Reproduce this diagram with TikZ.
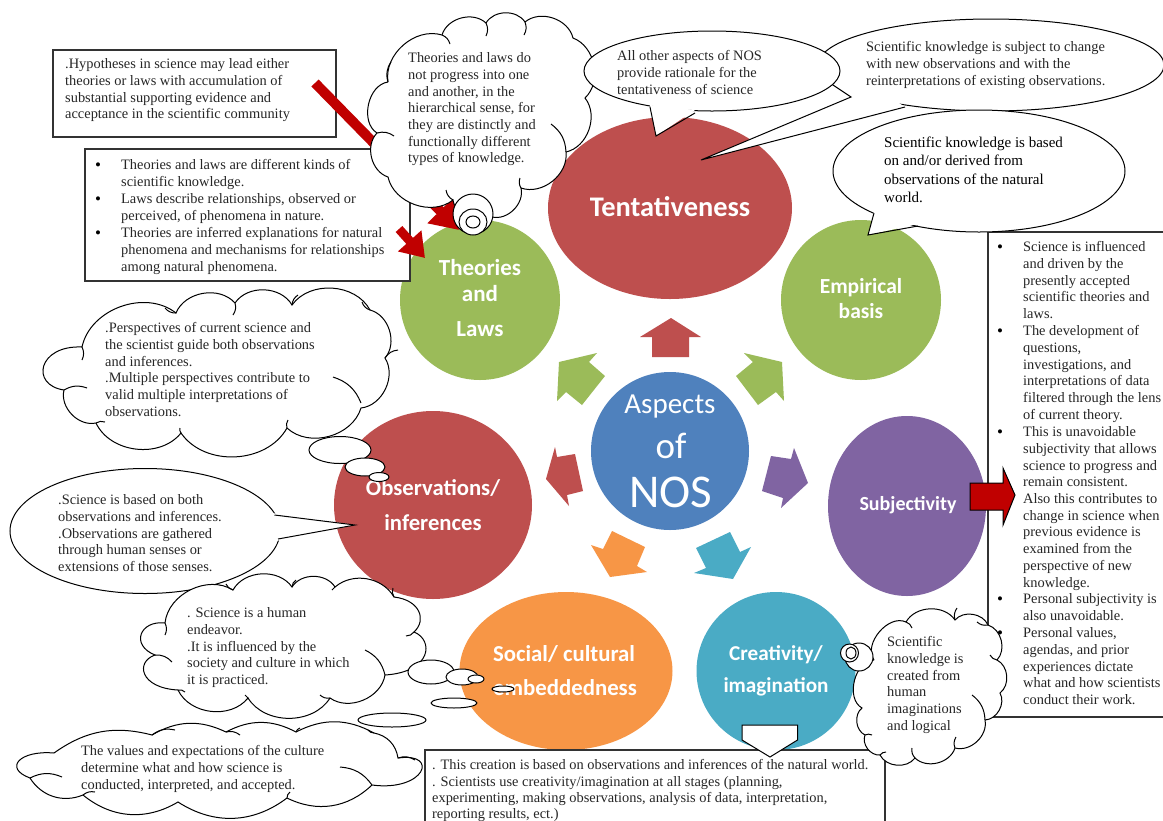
\documentclass[tikz,border=0pt]{standalone}
\usepackage{fontspec}
\setmainfont{Liberation Serif}
\newfontfamily\carl{Carlito}
\usetikzlibrary{shapes.geometric,arrows.meta}
\definecolor{cred}{HTML}{BE4F4E}
\definecolor{cgreen}{HTML}{9BBB59}
\definecolor{cpurple}{HTML}{8064A2}
\definecolor{cteal}{HTML}{4AABC5}
\definecolor{corange}{HTML}{F79646}
\definecolor{cblue}{HTML}{4F81BD}
\definecolor{dred}{HTML}{C00000}
\definecolor{ink}{HTML}{262626}
\tikzset{
  disc/.style={ellipse,inner sep=0pt,draw=none,fill=#1},
  callout/.style={ellipse,inner sep=0pt,draw=black,fill=white,line width=1pt},
  bubble/.style={ellipse,inner sep=0pt,draw=black,fill=white,line width=1pt},
  cloudline/.style={draw=black,fill=white,line width=1pt,every to/.style={bend left=58}},
  spur/.style={draw=black,line width=1pt,every to/.style={bend left=25}},
  boxline/.style={draw=black!80,line width=1.2pt},
  body/.style={anchor=north west,inner sep=0pt,yshift=-1.5pt,align=left,text=ink,font=\fontsize{14.4}{16.7}\selectfont},
  bigger/.style={anchor=north west,inner sep=0pt,yshift=-1.5pt,align=left,text=black,font=\fontsize{15}{18.4}\selectfont},
  dot/.style={inner sep=0pt,yshift=-2.5pt,text=black,font=\fontsize{17}{17}\selectfont},
  title/.style={inner sep=0pt,text=white,font=\carl\bfseries\fontsize{#1}{#1}\selectfont},
  thin title/.style={inner sep=0pt,text=white,font=\carl\fontsize{#1}{#1}\selectfont},
  bigred/.style={draw=dred,line width=10pt,-{Triangle[length=27pt,width=34pt]}},
  smallred/.style={draw=dred,line width=9pt,-{Triangle[length=23pt,width=30pt]}},
}
\begin{document}
\begin{tikzpicture}[x=1pt,y=-1pt]
\path[use as bounding box,fill=white] (0,0) rectangle (1163,820);

% discs
\node[disc=cred,minimum width=244pt,minimum height=182pt] (tent) at (670,208) {};
\node[disc=cgreen,minimum width=160pt,minimum height=160pt] (theo) at (480,300) {};
\node[disc=cgreen,minimum width=160pt,minimum height=160pt] (emp) at (861,300) {};
\node[disc=cpurple,minimum width=158pt,minimum height=180pt] (subj) at (907,506) {};
\node[disc=cteal,minimum width=159pt,minimum height=158pt] (crea) at (776,671) {};
\node[disc=corange,minimum width=213pt,minimum height=158pt] (soc) at (566,671) {};
\node[disc=cred,minimum width=198pt,minimum height=188pt] (obs) at (433,505) {};
\node[disc=cblue,minimum width=158pt,minimum height=158pt] (nos) at (670,451) {};

% block arrows around the centre
\fill[cred] (671,318) -- (701,337) -- (689,337) -- (689,357) -- (652,357) -- (652,337) -- (640,337) -- cycle;
\fill[cgreen] (744,353) -- (782,362) -- (784,401) -- (776,392) -- (758,405) -- (736,376) -- (753,362) -- cycle;
\fill[cgreen] (597,353) -- (559,362) -- (557,401) -- (566,392) -- (582,405) -- (605,376) -- (589,362) -- cycle;
\fill[cred] (555,447) -- (546,479) -- (569,506) -- (567,495) -- (583,491) -- (575,454) -- (557,457) -- cycle;
\fill[cpurple] (794,448) -- (808,483) -- (781,508) -- (783,498) -- (762,491) -- (771,456) -- (791,459) -- cycle;
\fill[corange] (612,531) -- (645,547) -- (637,566) -- (647,572) -- (610,577) -- (591,545) -- (603,549) -- cycle;
\fill[cteal] (730,532) -- (740,552) -- (751,547) -- (733,579) -- (694,573) -- (706,568) -- (696,548) -- cycle;

% disc titles
\node[title=28.4] (tTent) at (670,207) {Tentativeness};
\node[title=23] (tTheo1) at (480,268) {Theories};
\node[title=23] (tTheo2) at (480,294) {and};
\node[title=23] (tTheo3) at (480,329) {Laws};
\node[title=21.5] (tEmp1) at (861,288) {Empirical};
\node[title=21.5] (tEmp2) at (861,311) {basis};
\node[title=20] (tSubj) at (908,505) {Subjectivity};
\node[title=22.7] (tObs1) at (433,488) {Observations/};
\node[title=22.7] (tObs2) at (433,523) {inferences};
\node[title=22.8] (tSoc1) at (564,654) {Social/ cultural};
\node[title=22.8] (tSoc2) at (565,688) {embeddedness};
\node[title=21.2] (tCre1) at (776,655) {Creativity/};
\node[title=21.2] (tCre2) at (776,687) {imagination};
\node[thin title=29] (tNos1) at (670,407) {Aspects};
\node[thin title=37] (tNos2) at (671,446) {of};
\node[thin title=47] (tNos3) at (671,492) {NOS};

% top-left boxes
\node[draw=black!80,line width=1.2pt,fill=white,minimum width=283pt,minimum height=87pt,inner sep=0pt] (box1) at (194.5,93.5) {};
\node[body] (b1t) at (65,57) {.Hypotheses in science may lead either\\theories or laws with accumulation of\\substantial supporting evidence and\\acceptance in the scientific community};
\node[draw=black!80,line width=1.2pt,fill=white,minimum width=325pt,minimum height=132pt,inner sep=0pt] (box2) at (247.5,215) {};
\coordinate (a1s) at (315,83);
\coordinate (a1e) at (459,230);
\draw[bigred] (a1s) -- (a1e);
\node[dot] (d1) at (98,164) {•};
\node[dot] (d2) at (98,198) {•};
\node[dot] (d3) at (98,232) {•};
\node[body] (b2a) at (121,158) {Theories and laws are different kinds of\\scientific knowledge.};
\node[body] (b2b) at (121,192) {Laws describe relationships, observed or\\perceived, of phenomena in nature.};
\node[body] (b2c) at (121,226) {Theories are inferred explanations for natural\\phenomena and mechanisms for relationships\\among natural phenomena.};
\coordinate (a2s) at (399,229);
\coordinate (a2e) at (425,258);
\draw[smallred] (a2s) -- (a2e);

% theories cloud
\draw[cloudline] (388,82) to (442,35) to (486,23) to (525,22) to (573,38) to (585,98) to (566,152) to (521,188) to (492,217) to (453,200) to (388,177) to (377,133) to[bend left=70] (388,82);
\draw[spur] (442,35) to (450,44) (486,23) to (486,36) (525,22) to (524,35) (551,124) to (566,152) (521,188) to (520,178) (453,200) to (446,190) (377,133) to (394,136) (388,82) to (391,62);
\node[body] (cl1t) at (408,51) {Theories and laws do\\not progress into one\\and another, in the\\hierarchical sense, for\\they are distinctly and\\functionally different\\types of knowledge.};
\node[bubble,minimum width=40pt,minimum height=40pt] (bb1) at (473,214) {};
\node[bubble,minimum width=28pt,minimum height=26pt] (bb2) at (473,222) {};
\node[bubble,minimum width=14pt,minimum height=12pt] (bb3) at (473,222) {};

% right callouts (second one lies under the first)
\node[callout,minimum width=346pt,minimum height=92pt] (cB) at (991,65) {};
\fill[white] (830,83) -- (851,97) -- (701,160) -- (905,107) -- (880,90) -- cycle;
\draw[line width=1pt] (830,83) -- (851,97) -- (701,160) -- (905,107);
\node[body] (cBt) at (866,40) {Scientific knowledge is subject to change\\with new observations and with the\\reinterpretations of existing observations.};
\node[callout,minimum width=256pt,minimum height=80pt] (cA) at (712,71) {};
\fill[white] (650,105) -- (656,136) -- (695,110) -- cycle;
\draw[line width=1pt] (650,107) -- (656,136) -- (695,113);
\node[body] (cAt) at (617,49) {All other aspects of NOS\\provide rationale for the\\tentativeness of science};

% right box
\draw[boxline] (1163,232) -- (988,232) -- (988,717) -- (1163,717);
\node[dot] (d4) at (1000,246) {•};
\node[dot] (d5) at (1000,330) {•};
\node[dot] (d6) at (1000,431) {•};
\node[dot] (d7) at (1000,598) {•};
\node[dot] (d8) at (1000,632) {•};
\node[body] (r1) at (1023,240) {Science is influenced\\and driven by the\\presently accepted\\scientific theories and\\laws.};
\node[body] (r2) at (1023,324) {The development of\\questions,\\investigations, and\\interpretations of data\\filtered through the lens\\of current theory.};
\node[body] (r3) at (1023,425) {This is unavoidable\\subjectivity that allows\\science to progress and\\remain consistent.\\Also this contributes to\\change in science when\\previous evidence is\\examined from the\\perspective of new\\knowledge.};
\node[body] (r4) at (1023,592) {Personal subjectivity is\\also unavoidable.};
\node[body] (r5) at (1023,626) {Personal values,\\agendas, and prior\\experiences dictate\\what and how scientists\\conduct their work.};

% third callout
\node[callout,minimum width=292pt,minimum height=122pt] (cC) at (979,171) {};
\fill[white] (874,211) -- (868,235) -- (918,224) -- cycle;
\draw[line width=1pt] (874,213) -- (868,235) -- (918,226);
\node[bigger] (cCt) at (884,135) {Scientific knowledge is based\\on and/or derived from\\observations of the natural\\world.};

% subjectivity arrow
\draw[fill=dred,draw=black,line width=1pt] (970,483) -- (1003,483) -- (1003,468) -- (1015,495) -- (1003,525) -- (1003,510) -- (970,510) -- cycle;

% perspectives cloud
\draw[cloudline] (82,347) to (176,313) to (235,303) to (292,305) to (370,310) to (385,358) to (361,408) to (287,428) to (181,433) to (96,423) to (64,390) .. controls (30,385) and (38,345) .. (82,347);
\draw[spur] (176,313) to (165,308) (235,303) to (233,315) (292,305) to (298,295) (370,310) to (362,302) (385,358) to (398,350) (333,377) to (361,403) (287,428) to (288,420) (181,433) to (180,428) (96,423) to (105,422) (64,390) to (87,388) (82,347) to (82,360);
\node[body] (cl2t) at (105,321) {.Perspectives of current science and\\the scientist guide both observations\\and inferences.\\.Multiple perspectives contribute to\\valid multiple interpretations of\\observations.};

% observations callout
\node[callout,minimum width=270pt,minimum height=125pt] (cD) at (145,531) {};
\fill[white] (272,513) -- (355,525) -- (276,541) -- cycle;
\draw[line width=1pt] (274.5,515) -- (355,525) -- (278,539);
\node[body] (cDt) at (58,493) {.Science is based on both\\observations and inferences.\\.Observations are gathered\\through human senses or\\extensions of those senses.};
\node[bubble,minimum width=62pt,minimum height=27pt] (ob1) at (340,450) {};
\node[bubble,minimum width=40pt,minimum height=18pt] (ob2) at (365,467) {};
\node[bubble,minimum width=20pt,minimum height=9pt] (ob3) at (379,477) {};

% culture cloud
\draw[cloudline] (165,623) to (233,590) to (292,587) to (335,587) to[bend left=50] (394,597) .. controls (420,600) and (427,620) .. (414,632) .. controls (434,640) and (432,672) .. (385,675) to (330,698) to (248,698) to (178,690) .. controls (140,688) and (135,662) .. (155,655) .. controls (130,645) and (140,620) .. (165,623);
\draw[spur] (233,590) to (226,584) (292,587) to (296,580) (335,587) to (332,590) (394,597) to (393,588) (414,632) to (406,636) (365,650) to (385,675) (330,698) to (320,695) (248,698) to (245,695) (178,690) to (185,692) (155,655) to (172,662) (165,623) to (165,635);
\node[body] (cl3t) at (187,606) {. Science is a human\\endeavor.\\.It is influenced by the\\society and culture in which\\it is practiced.};
\node[bubble,minimum width=46pt,minimum height=24pt] (sb1) at (431,672) {};
\node[bubble,minimum width=32pt,minimum height=16pt] (sb2) at (462,677) {};
\node[bubble,minimum width=16pt,minimum height=8pt] (sb3) at (476,679) {};
\node[bubble,minimum width=22pt,minimum height=6pt] (sb4) at (503,689) {};
\node[bubble,minimum width=46pt,minimum height=10pt] (sb5) at (454,703) {};
\node[bubble,minimum width=68pt,minimum height=14pt] (sb6) at (392,720) {};

% values cloud
\draw[cloudline] (54,753) to[bend left=25] (152,735) to[bend left=28] (226,732) to[bend left=28] (296,732) to[bend left=28] (374,733) to[bend left=35] (398,758) .. controls (440,752) and (425,792) .. (372,785) to[bend left=35] (287,798) to[bend left=35] (178,802) to[bend left=35] (83,795) to[bend left=40] (30,778) .. controls (3,768) and (20,750) .. (54,753);
\draw[spur] (152,735) to (175,730) (226,732) to (240,735) (296,732) to (300,728) (374,733) to (368,730) (398,758) to (415,760) (340,767) to (372,785) (287,798) to (290,792) (83,795) to (95,792) (30,778) to (62,777);
\node[body] (cl4t) at (81,744) {The values and expectations of the culture\\determine what and how science is\\conducted, interpreted, and accepted.};

% bottom box
\draw[boxline,fill=white] (425,822) -- (425,750) -- (885,750) -- (885,822);
\node[body,font=\fontsize{14.4}{16.3}\selectfont] (bt) at (432,758) {. This creation is based on observations and inferences of the natural world.\\. Scientists use creativity/imagination at all stages (planning,\\experimenting, making observations, analysis of data, interpretation,\\reporting results, ect.)};
\draw[fill=white,draw=black,line width=1pt] (742,725) -- (797.5,725) -- (797.5,740) -- (770,757) -- (742,740) -- cycle;

% creativity cloud
\draw[cloudline] (874,660) to[bend left=75] (906,622) to (955,620) to (988,625) to (997,660) to (1000,693) to (985,720) to (955,748) to (915,758) to (880,755) to (865,735) to (862,708) to[bend left=75] (874,660);
\draw[spur] (906,622) to (912,628) (955,620) to (957,608) (988,625) to (977,622) (997,660) to (990,655) (972,695) to (985,720) (955,748) to (956,737) (915,758) to (912,748) (880,755) to (886,752) (865,735) to (872,735);
\node[body] (cl5t) at (887,635) {Scientific\\knowledge is\\created from\\human\\imaginations\\and logical};
\node[bubble,minimum width=28pt,minimum height=28pt] (cb1) at (859,657) {};
\node[bubble,minimum width=18pt,minimum height=18pt] (cb2) at (849.5,653) {};
\node[bubble,minimum width=10pt,minimum height=12pt] (cb3) at (851,653) {};
\end{tikzpicture}
\end{document}
